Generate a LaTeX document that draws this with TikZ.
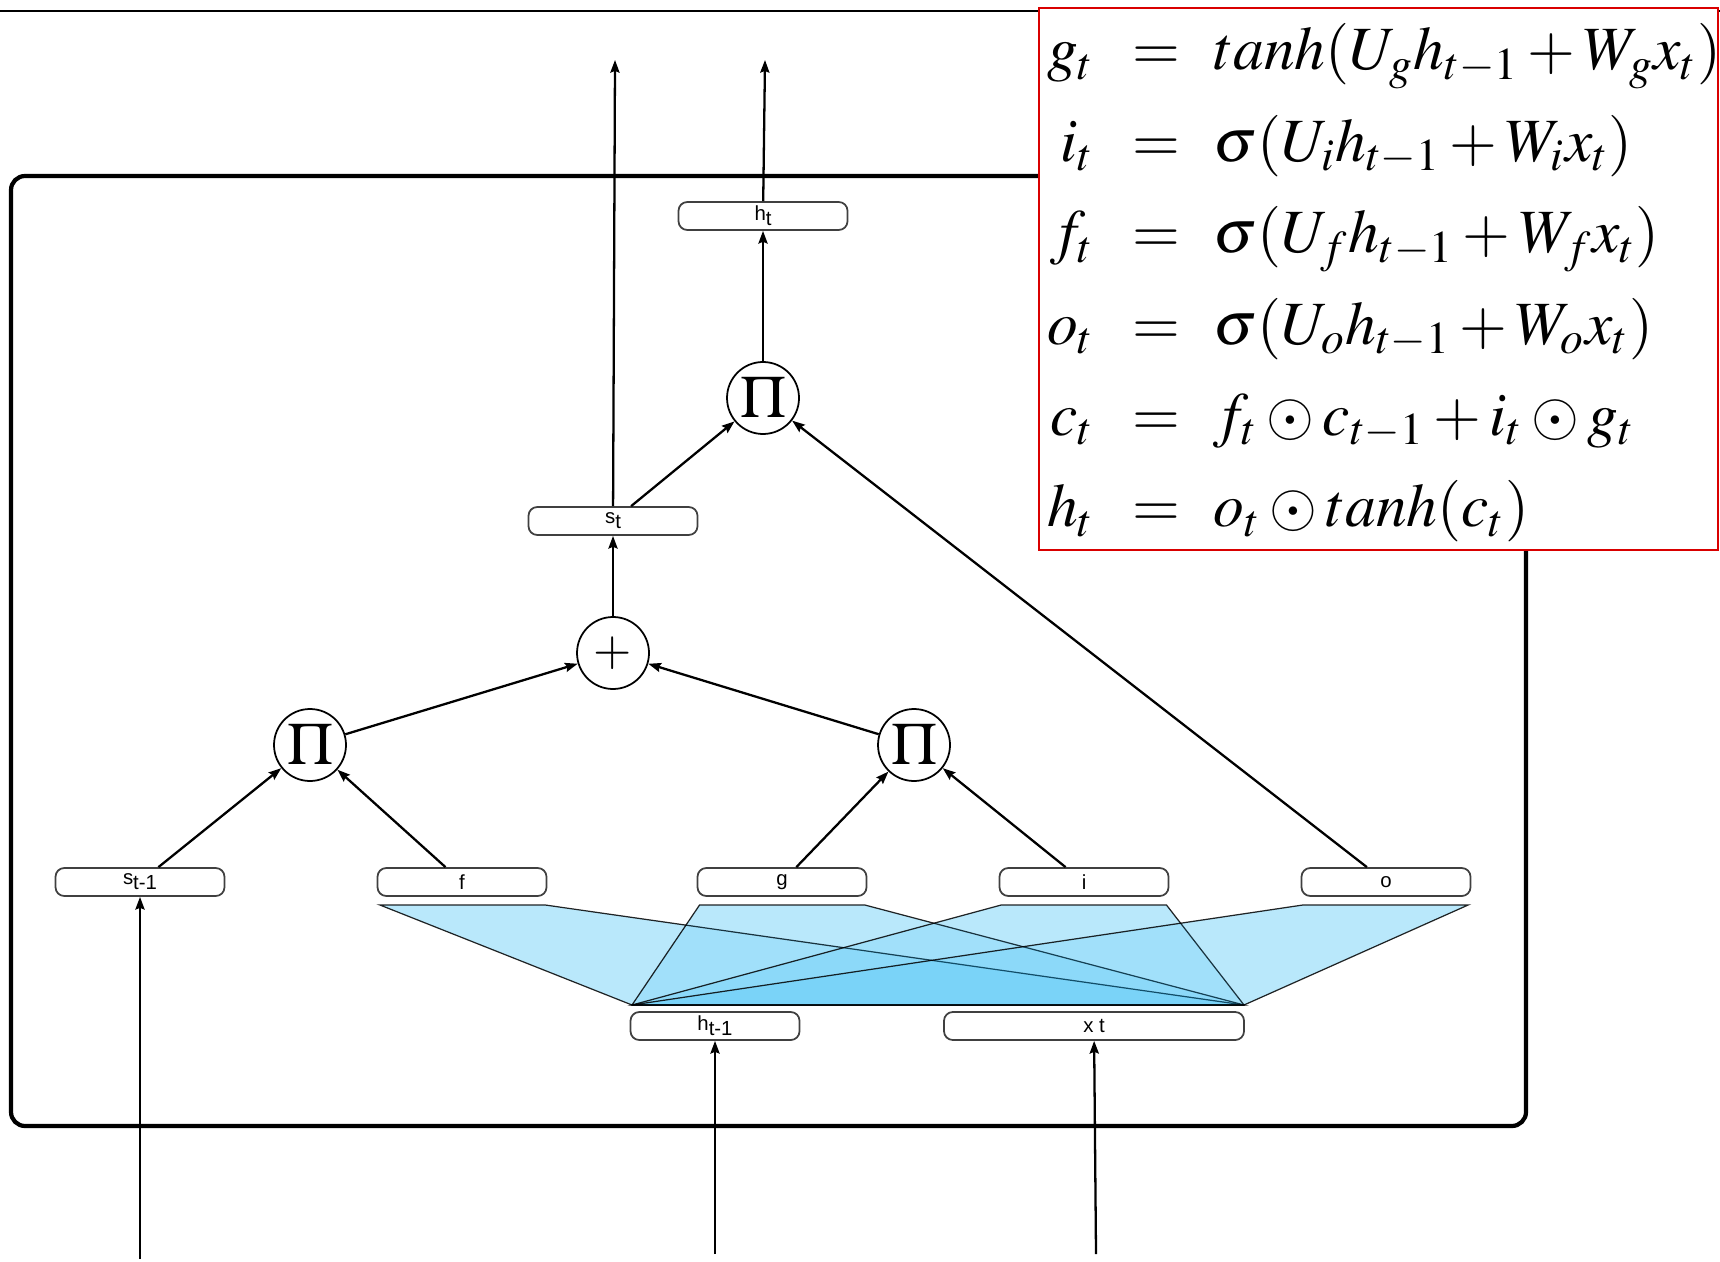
\documentclass[tikz,border=0pt]{standalone}
\usepackage{mathptmx}
\usepackage[no-math]{fontspec}
\setsansfont{Liberation Sans}
\usepackage{tikz}
\usetikzlibrary{calc, positioning, arrows.meta}

\newcommand{\lowtext}[1]{\raisebox{-0.45ex}{#1}}

\definecolor{fanbase}{RGB}{212,241,253}
\definecolor{fanblue}{RGB}{0,170,245}

\tikzset{
  gatebox/.style={draw=black!75, rounded corners=2.5pt, minimum width=1.69cm,
    minimum height=0.28cm, inner sep=0pt, line width=0.5pt,
    font=\sffamily\fontsize{5.8}{6}\selectfont},
  opnode/.style={draw, circle, minimum size=0.72cm, inner sep=0pt, line width=0.5pt},
  flow/.style={->, line width=0.65pt},
  fanfill/.style={fill=fanbase},
  fan/.style={fill=fanblue, fill opacity=0.124, draw=black, draw opacity=0.85,
    line width=0.35pt},
  eqtext/.style={inner sep=0pt, font=\fontsize{17.5}{20}\selectfont},
}

\begin{document}
\begin{tikzpicture}[x=0.1mm, y=-0.1mm, >={Stealth[length=3.6pt,width=2.6pt,inset=0.5pt]}]

    \useasboundingbox (0,0) rectangle (1720,1261);

    % top rule and cell frame
    \draw[line width=0.8pt] (0,11) -- (1720,11);
    \draw[line width=1.2pt, rounded corners=4pt] (11,176) rectangle (1526,1126);

    % boxes
    \node[gatebox] (ht) at (763,216) {h\lowtext{t}};
    \node[gatebox] (st) at (613,521) {s\lowtext{t}};
    \node[gatebox] (sprev) at (140,882) {s\lowtext{t-1}};
    \node[gatebox] (f) at (462,882) {f};
    \node[gatebox] (g) at (782,882) {g};
    \node[gatebox] (i) at (1084,882) {i};
    \node[gatebox] (o) at (1386,882) {o};
    \node[gatebox] (hprev) at (715,1026) {h\lowtext{t-1}};
    \node[gatebox, minimum width=3.0cm] (xt) at (1094,1026) {x t};

    % operators
    \node[opnode] (pTop) at (763,398) {\fontsize{17}{17}\selectfont$\Pi$};
    \node[opnode] (plus) at (613,653) {\fontsize{14}{14}\selectfont$+$};
    \node[opnode] (pL) at (310,745) {\fontsize{17}{17}\selectfont$\Pi$};
    \node[opnode] (pR) at (914,745) {\fontsize{17}{17}\selectfont$\Pi$};

    % fans from the inputs to the gates
    \coordinate (fanL) at (632,1005);
    \coordinate (fanR) at (1244,1005);
    \foreach \gate in {f,g,i,o}
        \fill[fanfill] ($(\gate.south west)+(3,8)$) -- ($(\gate.south east)+(-3,8)$)
            -- (fanR) -- (fanL) -- cycle;
    \foreach \gate in {f,g,i,o}
        \filldraw[fan] ($(\gate.south west)+(3,8)$) -- ($(\gate.south east)+(-3,8)$)
            -- (fanR) -- (fanL) -- cycle;

    % connections
    \draw[flow] (sprev) -- (pL);
    \draw[flow] (f) -- (pL);
    \draw[flow] (g) -- (pR);
    \draw[flow] (i) -- (pR);
    \draw[flow] (pL) -- (plus);
    \draw[flow] (pR) -- (plus);
    \draw[flow] (plus) -- (st);
    \draw[flow] (st) -- (pTop);
    \draw[flow] (o) -- (pTop);
    \draw[flow] (pTop) -- (ht);

    % inputs and outputs
    \coordinate (outS) at (615,60);
    \coordinate (outH) at (765,60);
    \coordinate (inS) at (140,1259);
    \coordinate (inH) at (715,1254);
    \coordinate (inX) at (1096,1254);
    \draw[flow] (st) -- (outS);
    \draw[flow] (ht) -- (outH);
    \draw[flow] (inS) -- (sprev);
    \draw[flow] (inH) -- (hprev);
    \draw[flow] (inX) -- (xt);

    % equations
    \draw[red!85!black, line width=0.6pt, fill=white] (1039,8) rectangle (1718,550);
    \foreach \lhs/\rhs [count=\k] in {
        g_t/{tanh(U_g h_{t-1}+W_g x_t)},
        i_t/{\sigma(U_i h_{t-1}+W_i x_t)},
        f_t/{\sigma(U_f h_{t-1}+W_f x_t)},
        o_t/{\sigma(U_o h_{t-1}+W_o x_t)},
        c_t/{f_t\odot c_{t-1}+i_t\odot g_t},
        h_t/{o_t\odot tanh(c_t)}}
    {
        \node[eqtext, anchor=base east] (lhs\k) at (1095,{70+91.4*(\k-1)}) {$\lhs$};
        \node[eqtext, anchor=base] (eq\k) at (1156,{70+91.4*(\k-1)}) {$=$};
        \node[eqtext, anchor=base west] (rhs\k) at (1213,{70+91.4*(\k-1)}) {$\rhs$};
    }

\end{tikzpicture}
\end{document}
